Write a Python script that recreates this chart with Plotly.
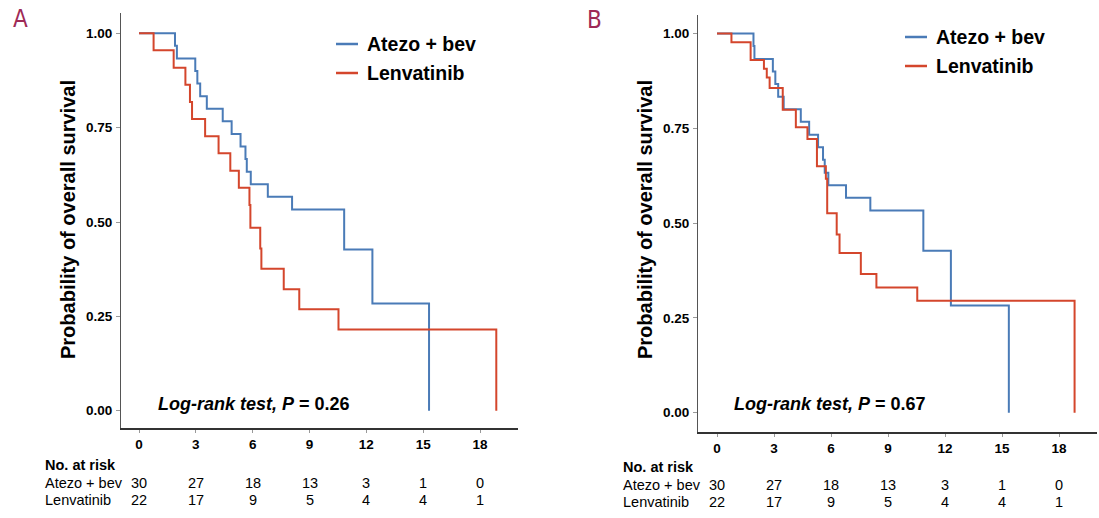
import plotly.graph_objects as go

W, H = 1099, 518

# ---------------- data ----------------
months_ticks = [0, 3, 6, 9, 12, 15, 18]
y_ticks = [0.0, 0.25, 0.50, 0.75, 1.00]
y_tick_labels = ["0.00", "0.25", "0.50", "0.75", "1.00"]

# Panel A
a_atezo_t = [0, 1.90, 2.00, 2.97, 3.08, 3.23, 3.58, 4.42, 4.89, 5.36, 5.62, 5.69, 5.90, 6.80, 8.08, 10.83, 12.32, 15.31]
a_atezo_s = [1.0, 0.967, 0.933, 0.900, 0.867, 0.833, 0.800, 0.767, 0.733, 0.700, 0.667, 0.633, 0.600, 0.567, 0.533, 0.427, 0.284, 0.0]
a_lenva_t = [0, 0.77, 1.83, 2.45, 2.69, 2.80, 3.49, 4.20, 4.82, 5.27, 5.83, 5.88, 6.40, 6.46, 7.64, 8.46, 10.53, 18.86]
a_lenva_s = [1.0, 0.955, 0.909, 0.864, 0.818, 0.773, 0.727, 0.682, 0.636, 0.591, 0.545, 0.485, 0.430, 0.376, 0.322, 0.269, 0.215, 0.0]

# Panel B
b_atezo_t = [0, 1.92, 1.97, 2.94, 3.07, 3.22, 3.51, 4.41, 4.85, 5.32, 5.58, 5.67, 5.86, 6.79, 8.07, 10.86, 12.31, 15.36]
b_atezo_s = [1.0, 0.967, 0.933, 0.900, 0.867, 0.833, 0.800, 0.767, 0.733, 0.700, 0.667, 0.633, 0.600, 0.567, 0.533, 0.427, 0.283, 0.0]
b_lenva_t = [0, 0.76, 1.77, 2.47, 2.62, 2.77, 3.46, 4.15, 4.76, 5.26, 5.73, 5.80, 6.30, 6.45, 7.57, 8.39, 10.54, 18.82]
b_lenva_s = [1.0, 0.977, 0.930, 0.907, 0.884, 0.856, 0.799, 0.753, 0.722, 0.650, 0.617, 0.526, 0.470, 0.421, 0.366, 0.330, 0.295, 0.0]

risk_atezo = [30, 27, 18, 13, 3, 1, 0]
risk_lenva = [22, 17, 9, 5, 4, 4, 1]

pvalue_a = "0.26"
pvalue_b = "0.67"

series_names = ["Atezo + bev", "Lenvatinib"]
colors = ["#4a7bb7", "#d4462c"]

FONT = "Liberation Sans, Arial, sans-serif"


def px(x):
    return x / W


def py(y):
    return 1 - y / H


fig = go.Figure()

panels = [
    dict(xa="x", ya="y", at=(a_atezo_t, a_atezo_s), le=(a_lenva_t, a_lenva_s)),
    dict(xa="x2", ya="y2", at=(b_atezo_t, b_atezo_s), le=(b_lenva_t, b_lenva_s)),
]
for p in panels:
    for name, (t, s), c in zip(series_names, [p["at"], p["le"]], colors):
        fig.add_trace(go.Scatter(
            x=t, y=s, mode="lines", line=dict(shape="hv", color=c, width=2),
            name=name, xaxis=p["xa"], yaxis=p["ya"], showlegend=False,
            hoverinfo="skip",
        ))

axis_common_x = dict(
    tickmode="array", tickvals=months_ticks, ticktext=[str(m) for m in months_ticks],
    showline=True, linecolor="#333333", linewidth=2, ticks="outside", ticklen=3,
    tickcolor="#999999", tickwidth=1, showgrid=False, zeroline=False,
    tickfont=dict(family=FONT, size=13.5, color="black", weight="bold"),
    ticklabelstandoff=0,
)
axis_common_y = dict(
    tickmode="array", tickvals=y_ticks, ticktext=y_tick_labels,
    showline=True, linecolor="#555555", linewidth=1, ticks="outside", ticklen=4,
    tickcolor="#999999", tickwidth=1, showgrid=False, zeroline=False,
    tickfont=dict(family=FONT, size=13.5, color="black", weight="bold"),
    ticklabelstandoff=1,
)

# pixel geometry
A = dict(left=121, right=518, top=13, bottom=428, x0=139, x18=480, y1=33.3, y0=410.7)
B = dict(left=698, right=1097, top=15, bottom=432, x0=717, x18=1059, y1=33.5, y0=412.7)


def ranges(g):
    mpp = 18 / (g["x18"] - g["x0"])
    xr = [(g["left"] - g["x0"]) * mpp, (g["right"] - g["x0"]) * mpp]
    upp = 1 / (g["y0"] - g["y1"])
    yr = [-(g["bottom"] - g["y0"]) * upp, 1 + (g["y1"] - g["top"]) * upp]
    return xr, yr


xrA, yrA = ranges(A)
xrB, yrB = ranges(B)

fig.update_layout(
    width=W, height=H,
    margin=dict(l=0, r=0, t=0, b=0),
    paper_bgcolor="white", plot_bgcolor="white",
    font=dict(family=FONT, color="black"),
    xaxis=dict(domain=[px(A["left"]), px(A["right"])], range=xrA, anchor="y", **axis_common_x),
    yaxis=dict(domain=[py(A["bottom"]), py(A["top"])], range=yrA, anchor="x", **axis_common_y),
    xaxis2=dict(domain=[px(B["left"]), px(B["right"])], range=xrB, anchor="y2", **axis_common_x),
    yaxis2=dict(domain=[py(B["bottom"]), py(B["top"])], range=yrB, anchor="x2", **axis_common_y),
    showlegend=False,
)

ann = []
shapes = []
# Legends (line sample + label)
for (lx0, lx1, tx, ys) in [(336, 358, 365, (44, 73)), (905, 927, 934, (37, 66))]:
    for name, c, yy in zip(series_names, colors, ys):
        shapes.append(dict(type="line", xref="paper", yref="paper", x0=px(lx0), x1=px(lx1),
                           y0=py(yy), y1=py(yy), line=dict(color=c, width=2.5)))
        ann.append(dict(text=f"<b>{name}</b>", x=px(tx), y=py(yy), xref="paper", yref="paper",
                        showarrow=False, xanchor="left", yanchor="middle",
                        font=dict(family=FONT, size=19.5, color="black")))
# Panel letters
for letter, x, y in [("A", 20, 19), ("B", 594, 20)]:
    ann.append(dict(text=letter, x=px(x), y=py(y), xref="paper", yref="paper", showarrow=False,
                    xanchor="center", yanchor="middle",
                    font=dict(family="Liberation Sans Narrow, DejaVu Sans Condensed, sans-serif", size=24, color="#9e2a56")))
# y titles
for x in [68, 645]:
    ann.append(dict(text="<b>Probability of overall survival</b>", x=px(x), y=py(220), xref="paper", yref="paper",
                    showarrow=False, textangle=-90, xanchor="center", yanchor="middle",
                    font=dict(family=FONT, size=20, color="black")))
# log-rank
for x, pv in [(156, pvalue_a), (732, pvalue_b)]:
    ann.append(dict(text=f"<b><i>Log-rank test, P</i> = {pv}</b>", x=px(x), y=py(404), xref="paper", yref="paper",
                    showarrow=False, xanchor="left", yanchor="middle",
                    font=dict(family=FONT, size=18, color="black")))
# at-risk table
for xa, lx, ys in [("x", 43, (465, 483, 500)), ("x2", 621, (467, 485, 502))]:
    ann.append(dict(text="<b>No. at risk</b>", x=px(lx), y=py(ys[0]), xref="paper", yref="paper",
                    showarrow=False, xanchor="left", yanchor="middle", font=dict(family=FONT, size=14.5)))
    for name, yy, vals in [(series_names[0], ys[1], risk_atezo), (series_names[1], ys[2], risk_lenva)]:
        ann.append(dict(text=name, x=px(lx), y=py(yy), xref="paper", yref="paper",
                        showarrow=False, xanchor="left", yanchor="middle", font=dict(family=FONT, size=14.5)))
        for m, v in zip(months_ticks, vals):
            ann.append(dict(text=str(v), x=m, y=py(yy), xref=xa, yref="paper",
                            showarrow=False, xanchor="center", yanchor="middle", font=dict(family=FONT, size=14.5)))

fig.update_layout(annotations=ann, shapes=shapes)
fig.write_html("out.html", config={"displayModeBar": False},
               post_script="document.body.style.margin='0';")
